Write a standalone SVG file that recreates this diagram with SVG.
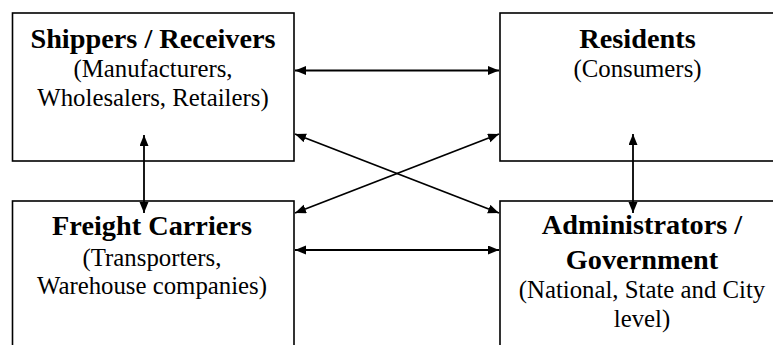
<svg xmlns="http://www.w3.org/2000/svg" width="773" height="345" viewBox="0 0 773 345">
<style>
.box{fill:#fff;stroke:#000;stroke-width:1.6}
.b{font-weight:bold;font-size:28.3px}
.r{font-size:24.8px}
.c{stroke:#000;stroke-width:1.8;fill:none;marker-start:url(#ah);marker-end:url(#ah)}
</style>
<defs>
<marker id="ah" markerUnits="userSpaceOnUse" markerWidth="12" markerHeight="10" refX="11" refY="4.5" orient="auto-start-reverse" viewBox="0 0 12 10">
<path d="M0,0 L11,4.5 L0,9 z" fill="#000"/>
</marker>
</defs>
<rect width="773" height="345" fill="#fff"/>
<g font-family="Liberation Serif, Times New Roman, serif" text-anchor="middle" fill="#000">
<g id="shippers">
<rect class="box" x="12.5" y="13" width="281.5" height="148"/>
<text class="b" x="153" y="48">Shippers / Receivers</text>
<text class="r" x="153" y="77">(Manufacturers,</text>
<text class="r" x="153" y="106">Wholesalers, Retailers)</text>
</g>
<g id="residents">
<rect class="box" x="500" y="13" width="285" height="148"/>
<text class="b" x="637.5" y="48">Residents</text>
<text class="r" x="637.5" y="77">(Consumers)</text>
</g>
<g id="carriers">
<rect class="box" x="12.5" y="201" width="281.5" height="160"/>
<text class="b" x="152" y="235">Freight Carriers</text>
<text class="r" x="152" y="266">(Transporters,</text>
<text class="r" x="152" y="294">Warehouse companies)</text>
</g>
<g id="admin">
<rect class="box" x="500" y="201" width="285" height="160"/>
<text class="b" x="642" y="234">Administrators /</text>
<text class="b" x="642" y="269">Government</text>
<text class="r" x="642" y="298">(National, State and City</text>
<text class="r" x="642" y="327">level)</text>
</g>
</g>
<g id="connectors">
<line class="c" x1="295" y1="70.5" x2="499" y2="70.5"/>
<line class="c" x1="295" y1="250" x2="499" y2="250"/>
<line class="c" x1="295" y1="134" x2="499" y2="213"/>
<line class="c" x1="499" y1="134" x2="295" y2="213"/>
<line class="c" x1="144" y1="135" x2="144" y2="213"/>
<line class="c" x1="633" y1="134" x2="633" y2="213"/>
</g>
</svg>
